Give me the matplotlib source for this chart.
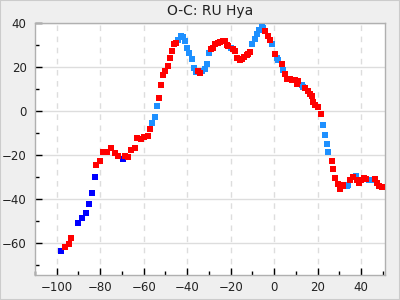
import matplotlib
matplotlib.use("Agg")
import matplotlib.pyplot as plt
from matplotlib.ticker import MultipleLocator

# Dark blue series
blue_x = [-98.0, -90.0, -88.3, -86.5, -85.1, -83.7, -82.6, -69.7]
blue_y = [-63.8, -51.0, -48.4, -46.2, -42.1, -37.1, -29.9, -21.7]

# Light blue series
lblue_x = [-56.1, -54.7, -53.8, -44.1, -42.7, -41.8, -40.9, -39.9, -39.0, -37.6,
           -36.7, -35.8, -33.0, -31.6, -30.7, -29.8, -19.7, -10.0, -8.6, -7.7,
           -6.8, -5.8, -4.9, -0.8, 1.1, 2.0, 4.3, 12.6, 13.5, 22.3,
           23.2, 24.1, 25.0, 33.3, 34.2, 37.5, 43.5, 44.4]
lblue_y = [-5.4, -2.7, 2.3, 32.3, 34.1, 33.5, 31.7, 28.5, 26.2, 23.5,
           19.5, 17.6, 18.1, 19.0, 21.3, 26.2, 28.5, 30.3, 32.6, 34.8,
           36.7, 38.0, 37.6, 30.3, 24.0, 23.1, 18.6, 11.8, 10.9, -6.3,
           -10.9, -14.9, -18.6, -33.9, -33.5, -29.4, -31.2, -31.2]

# Red series
red_x = [-96.2, -94.3, -93.4, -81.9, -80.0, -78.6, -76.8, -75.0, -73.1, -71.7,
         -68.5, -67.0, -65.7, -64.2, -63.0, -61.1, -59.8, -57.9, -57.0, -52.8,
         -51.9, -51.0, -50.1, -48.7, -47.8, -46.9, -45.9, -45.0, -34.9, -33.9,
         -28.9, -28.0, -27.0, -25.7, -24.7, -23.3, -22.4, -21.9, -21.0, -18.7,
         -17.8, -16.9, -15.9, -14.6, -13.7, -12.7, -11.8, -10.9, -4.0, -2.6,
         -1.7, 0.2, 3.4, 5.2, 6.1, 7.1, 8.4, 9.4, 10.3, 11.2,
         14.4, 15.4, 16.3, 17.2, 18.1, 19.0, 20.4, 21.4, 26.4, 27.3,
         28.2, 29.2, 30.1, 31.5, 31.9, 34.7, 36.1, 37.9, 38.9, 39.8,
         41.2, 42.1, 46.2, 47.2, 48.1, 49.5]
red_y = [-62.0, -60.6, -57.5, -24.4, -22.6, -18.6, -18.6, -16.7, -19.0, -20.4,
         -20.4, -20.8, -17.6, -16.7, -12.2, -12.7, -11.8, -11.3, -8.1, 5.9,
         11.8, 16.3, 18.1, 20.4, 24.0, 27.1, 30.3, 30.8, 18.1, 17.2,
         28.1, 28.5, 30.3, 30.8, 31.2, 31.7, 31.7, 29.9, 29.4, 28.1,
         27.1, 24.0, 23.1, 23.5, 24.4, 25.3, 25.8, 26.7, 36.2, 33.9,
         32.1, 25.8, 21.3, 16.7, 14.5, 14.5, 14.0, 14.0, 12.2, 13.6,
         10.4, 9.0, 7.7, 6.8, 4.1, 2.7, 1.8, -1.4, -22.6, -26.2,
         -30.3, -33.0, -35.3, -33.9, -33.5, -31.2, -29.9, -31.2, -32.6, -31.2,
         -30.3, -30.8, -30.8, -32.6, -33.9, -34.4]

title = "O-C: RU Hya"

fig = plt.figure(figsize=(4, 3), dpi=100)
fig.patch.set_facecolor("#efefef")
ax = fig.add_axes([0.0875, 0.0833, 0.875, 0.84])
ax.set_facecolor("white")

ms = 4.0
ax.plot(lblue_x, lblue_y, "s", color="#1e90ff", ms=ms, mew=0, zorder=3)
ax.plot(blue_x, blue_y, "s", color="#0000ff", ms=ms, mew=0, zorder=3)
ax.plot(red_x, red_y, "s", color="#ff0000", ms=ms, mew=0, zorder=4)

ax.set_xlim(-110, 51)
ax.set_ylim(-74.5, 40)
ax.xaxis.set_major_locator(MultipleLocator(20))
ax.xaxis.set_minor_locator(MultipleLocator(10))
ax.yaxis.set_major_locator(MultipleLocator(20))
ax.yaxis.set_minor_locator(MultipleLocator(10))

ax.grid(axis="y", which="major", color="#dddddd", lw=1, ls="-", zorder=0)
ax.grid(axis="x", which="major", color="#dddddd", lw=1, ls=(0, (4, 4)), zorder=0)
ax.set_axisbelow(True)

ax.tick_params(which="both", direction="in", labelsize=8.5, colors="black",
               labelcolor="#222222")
ax.tick_params(which="major", length=5, width=1)
ax.tick_params(which="minor", length=3, width=1)
ax.tick_params(axis="x", pad=4)
ax.tick_params(axis="y", pad=6)

for s in ax.spines.values():
    s.set_color("#b0b0b0")
    s.set_linewidth(1)

ax.set_title(title, fontsize=10, color="#222222", pad=6)

fig.add_artist(plt.Rectangle((0, 0), 1, 1, transform=fig.transFigure,
                             fill=False, edgecolor="#cccccc", lw=1.5))

fig.savefig("out.png", dpi=100, facecolor=fig.get_facecolor())
